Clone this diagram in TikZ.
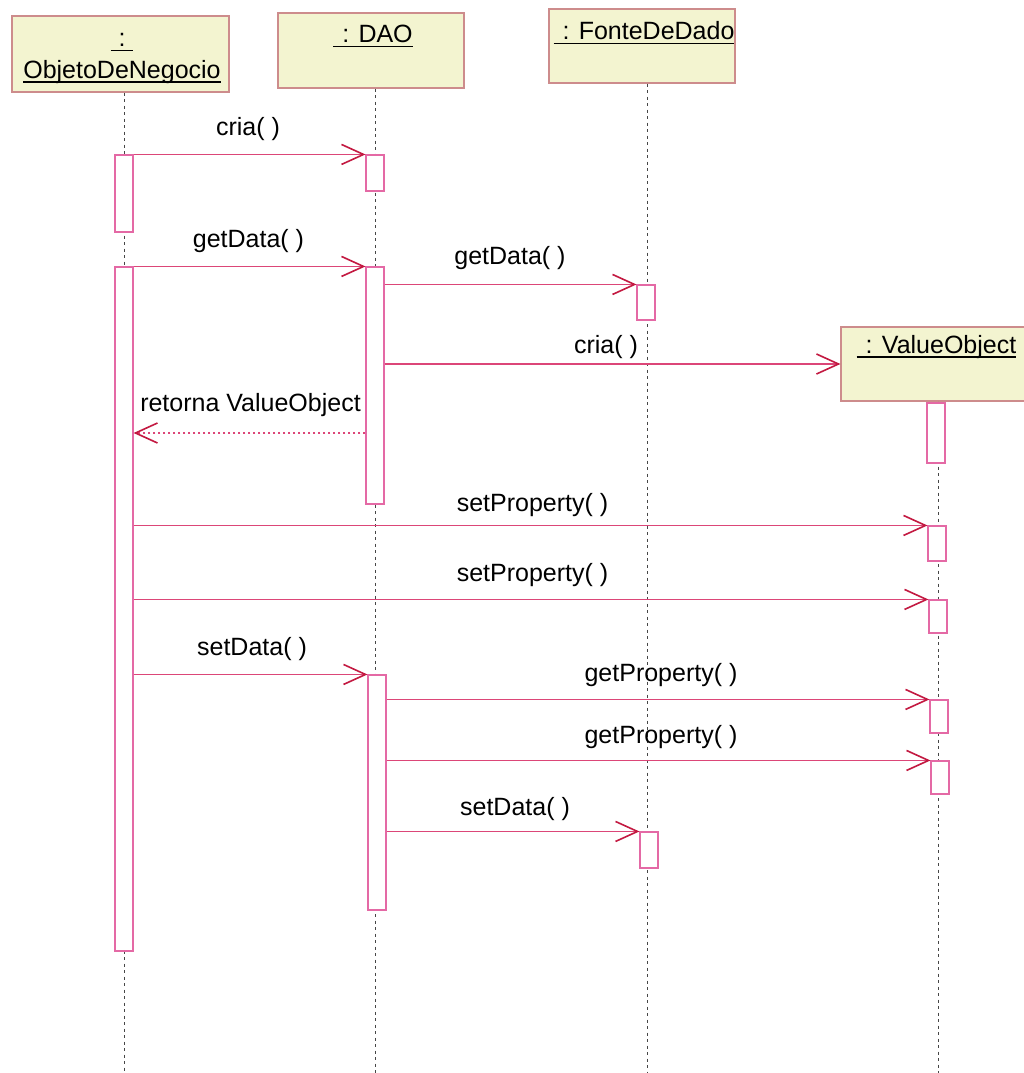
\documentclass[tikz,border=0pt]{standalone}
\usepackage{fontspec}
\setmainfont{Liberation Sans}
\usetikzlibrary{arrows.meta}
\definecolor{boxfill}{RGB}{243,244,208}
\definecolor{boxline}{RGB}{205,140,140}
\definecolor{msgcol}{RGB}{220,70,120}
\definecolor{tipcol}{RGB}{195,25,65}
\definecolor{actcol}{RGB}{228,105,165}
\definecolor{lifecol}{RGB}{70,70,70}
\newcommand{\ulx}[1]{\setbox0\hbox{#1}\rlap{\rule[-4.5pt]{\wd0}{1.6pt}}\box0}
\begin{document}
\begin{tikzpicture}[x=1pt,y=-1pt,
  font=\fontsize{25}{31}\selectfont,
  objbox/.style={draw=boxline, fill=boxfill, line width=1.2pt, inner sep=0pt},
  objtext/.style={inner sep=0pt, anchor=base, align=center},
  lifeline/.style={draw=lifecol, line width=0.9pt, dash pattern=on 3pt off 3.5pt},
  actbox/.style={draw=actcol, fill=white, line width=1.1pt, minimum width=18pt, inner sep=0pt},
  msg/.style={draw=msgcol, line width=1.5pt, -{Straight Barb[length=22pt, width=20pt, line width=1.6pt, color=tipcol]}},
  ret/.style={draw=msgcol, line width=1.5pt, dash pattern=on 2pt off 3pt, -{Straight Barb[length=22pt, width=20pt, line width=1.6pt, color=tipcol]}},
  lbl/.style={inner sep=0pt, anchor=base}]
\useasboundingbox (0,0) rectangle (1024,1073);
\fill[white] (0,0) rectangle (1024,1073);

% lifeline ends
\coordinate (e1) at (124,1073);
\coordinate (e2) at (375,1073);
\coordinate (e3) at (647,1073);
\coordinate (e4) at (938,1073);

% object boxes
\node[objbox, minimum width=217pt, minimum height=76pt] (o1) at (120.5,54) {};
\node[objbox, minimum width=186pt, minimum height=75pt] (o2) at (371,50.5) {};
\node[objbox, minimum width=186pt, minimum height=74pt] (o3) at (642,46) {};
\node[objbox, minimum width=194pt, minimum height=74pt] (o4) at (938,364) {};

\node[objtext] (o1a) at (122,47) {\ulx{\hspace{8pt}:\hspace{8pt}}};
\node[objtext] (o1b) at (122,78) {\ulx{ObjetoDeNegocio}};
\node[objtext] (o2t) at (373,43) {\ulx{\hspace{9pt}: DAO}};
\node[objtext] (o3t) at (644,40) {\ulx{\hspace{9pt}: FonteDeDado}};
\node[objtext] (o4t) at (936.5,353) {\ulx{\hspace{9pt}: ValueObject}};

% lifelines
\draw[lifeline] (o1.south -| e1) -- (e1);
\draw[lifeline] (o2.south -| e2) -- (e2);
\draw[lifeline] (o3.south -| e3) -- (e3);
\draw[lifeline] (o4.south -| e4) -- (e4);

% activation boxes
\node[actbox, minimum height=77pt] (a1) at (124,193.5) {};
\node[actbox, minimum height=684pt] (a2) at (124,609) {};
\node[actbox, minimum height=36pt] (b1) at (375,173) {};
\node[actbox, minimum height=237pt] (b2) at (375,385.5) {};
\node[actbox, minimum height=235pt] (b3) at (377,792.5) {};
\node[actbox, minimum height=35pt] (c1) at (646,302.5) {};
\node[actbox, minimum height=36pt] (c2) at (649,850) {};
\node[actbox, minimum height=60pt] (d1) at (936,433) {};
\node[actbox, minimum height=35pt] (d2) at (937,543.5) {};
\node[actbox, minimum height=33pt] (d3) at (938,616.5) {};
\node[actbox, minimum height=33pt] (d4) at (939,716.5) {};
\node[actbox, minimum height=33pt] (d5) at (940,777.5) {};

% messages
\draw[msg] (a1.north east) -- (b1.north west);
\draw[msg] (a2.north east) -- (b2.north west);
\draw[msg] (b2.east |- c1.north) -- (c1.north west);
\draw[msg] (b2.east |- o4.west) -- (o4.west);
\draw[ret] (b2.west |- d1) -- (a2.east |- d1);
\draw[msg] (a2.east |- d2.north) -- (d2.north west);
\draw[msg] (a2.east |- d3.north) -- (d3.north west);
\draw[msg] (a2.east |- b3.north) -- (b3.north west);
\draw[msg] (b3.east |- d4.north) -- (d4.north west);
\draw[msg] (b3.east |- d5.north) -- (d5.north west);
\draw[msg] (b3.east |- c2.north) -- (c2.north west);

% labels
\node[lbl] (m1) at (248,135) {cria( )};
\node[lbl] (m2) at (248.5,247) {getData( )};
\node[lbl] (m3) at (510,264) {getData( )};
\node[lbl] (m4) at (606,353) {cria( )};
\node[lbl] (m5) at (250.5,411) {retorna ValueObject};
\node[lbl] (m6) at (532.5,511) {setProperty( )};
\node[lbl] (m7) at (532.5,581) {setProperty( )};
\node[lbl] (m8) at (252,655) {setData( )};
\node[lbl] (m9) at (661,681) {getProperty( )};
\node[lbl] (m10) at (661,743) {getProperty( )};
\node[lbl] (m11) at (515,815) {setData( )};
\end{tikzpicture}
\end{document}
